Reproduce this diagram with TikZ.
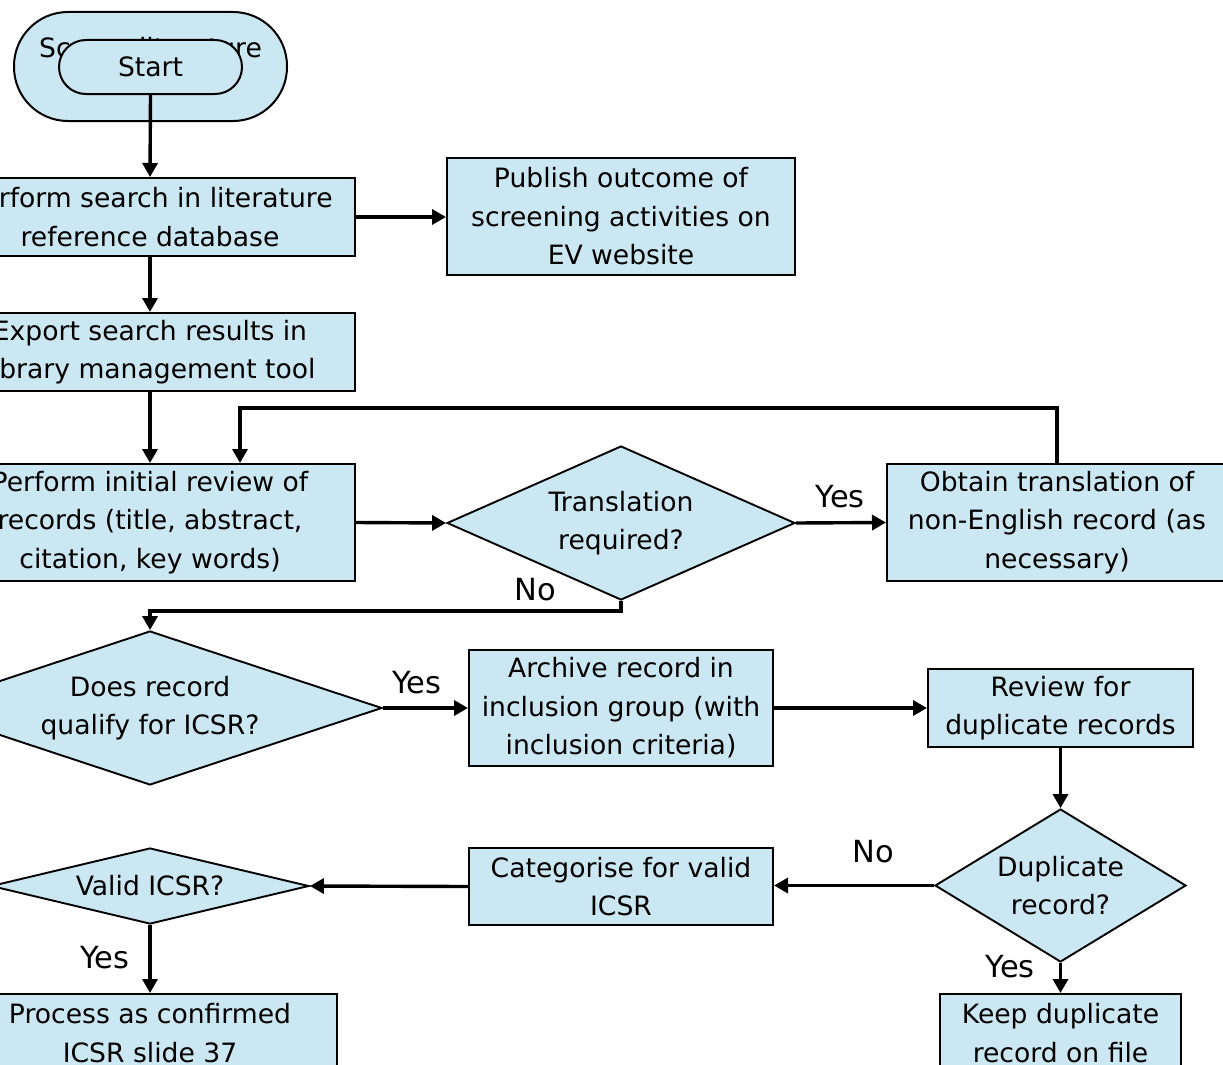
\documentclass[tikz,border=0pt]{standalone}
\usepackage{fontspec}
\setmainfont{DejaVu Sans}
\usetikzlibrary{shapes.geometric,arrows.meta}
\definecolor{boxfill}{RGB}{203,231,242}
\begin{document}
\begin{tikzpicture}[x=1pt,y=-1pt,
 every node/.style={font=\fontsize{26.6}{38.5}\selectfont},
 proc/.style={draw=black,line width=2pt,fill=boxfill,rectangle,inner sep=0pt,align=center},
 dec/.style={draw=black,line width=1.9pt,fill=boxfill,diamond,inner sep=0pt,align=center},
 term/.style={draw=black,line width=2pt,fill=boxfill,rectangle,inner sep=0pt,align=center},
 flow/.style={line width=3.4pt,-{Triangle[length=14pt,width=15pt]}},
 lbl/.style={font=\fontsize{30.5}{36}\selectfont,inner sep=0pt},
]
\useasboundingbox (0,0) rectangle (1223,1065);
\clip (0,0) rectangle (1223,1065);

% terminators
\node[term, rounded corners=54pt, minimum width=273pt, minimum height=109pt] (screen) at (150.5,66.5) {Screen literature\\\phantom{x}};
\node[term, rounded corners=27pt, minimum width=183pt, minimum height=54pt] (start) at (150.5,67) {Start};

% process boxes
\node[proc, minimum width=410pt, minimum height=78pt] (search) at (150,217) {Perform search in literature\\reference database};
\node[proc, minimum width=348pt, minimum height=117pt] (publish) at (621,216.5) {Publish outcome of\\screening activities on\\EV website};
\node[proc, minimum width=410pt, minimum height=78pt] (export) at (150,352) {Export search results in\\library management tool};
\node[proc, minimum width=410pt, minimum height=117pt] (review) at (150,522.5) {Perform initial review of\\records (title, abstract,\\citation, key words)};
\node[proc, minimum width=340pt, minimum height=117pt] (obtain) at (1057,522.5) {Obtain translation of\\non-English record (as\\necessary)};
\node[proc, minimum width=304pt, minimum height=116pt] (archive) at (621,708) {Archive record in\\inclusion group (with\\inclusion criteria)};
\node[proc, minimum width=265pt, minimum height=78pt] (revdup) at (1060.5,708) {Review for\\duplicate records};
\node[proc, minimum width=304pt, minimum height=77pt] (cat) at (621,886.5) {Categorise for valid\\ICSR};
\node[proc, minimum width=374pt, minimum height=78pt] (process) at (150,1033) {Process as confirmed\\ICSR slide 37};
\node[proc, minimum width=241pt, minimum height=78pt] (keep) at (1060.5,1033) {Keep duplicate\\record on file};

% decisions
\node[dec, aspect=2.26, minimum width=348pt, minimum height=154pt] (trans) at (621,523) {Translation\\required?};
\node[dec, aspect=3.013, minimum width=464pt, minimum height=154pt] (qual) at (150,708) {Does record\\qualify for ICSR?};
\node[dec, aspect=1.64, minimum width=251pt, minimum height=153pt] (dup) at (1060.5,885.5) {Duplicate\\record?};
\node[dec, aspect=4.18, minimum width=318pt, minimum height=76pt] (valid) at (150,886) {Valid ICSR?};

% connectors
\draw[flow] (start.south) -- (search.north);
\draw[flow] (search.east) -- (search.east -| publish.west);
\draw[flow] (search.south) -- (export.north);
\draw[flow] (export.south) -- (review.north);
\draw[flow] (obtain.north) -- (obtain.north |- 0,408) -| ([xshift=90pt]review.north);
\draw[flow] (review.east) -- (trans.west);
\draw[flow] (trans.east) -- (obtain.west);
\draw[flow] (trans.south) -- ++(0,10) -| (qual.north);
\draw[flow] (qual.east) -- (archive.west);
\draw[flow] (archive.east) -- (revdup.west);
\draw[flow] (revdup.south) -- (dup.north);
\draw[flow] (dup.west) -- (dup.west -| cat.east);
\draw[flow] (cat.west) -- (valid.east);
\draw[flow] (valid.south) -- (process.north);
\draw[flow] (dup.south) -- (keep.north);

% labels
\node[lbl] (yes1) at (840,497) {Yes};
\node[lbl] (no1) at (535,590) {No};
\node[lbl] (yes2) at (417,683) {Yes};
\node[lbl] (no2) at (873,852) {No};
\node[lbl] (yes3) at (105,958) {Yes};
\node[lbl] (yes4) at (1010,967) {Yes};
\end{tikzpicture}
\end{document}
